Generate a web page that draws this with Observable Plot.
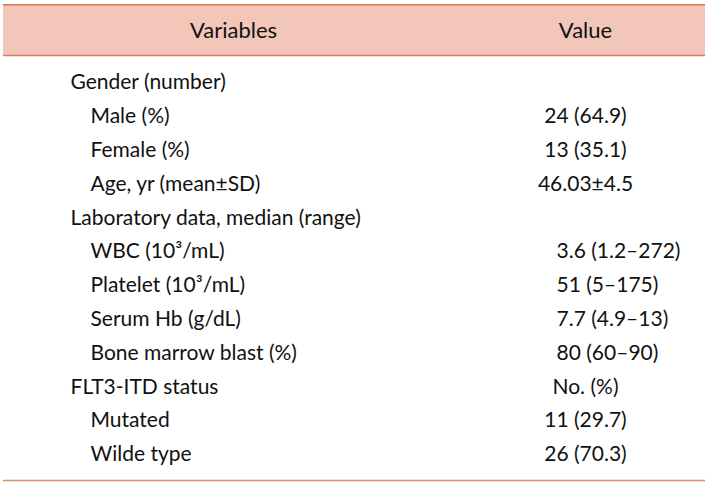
<!DOCTYPE html>
<html>
<head>
<meta charset="utf-8">
<script src="https://cdn.jsdelivr.net/npm/d3@7"></script>
<script src="https://cdn.jsdelivr.net/npm/@observablehq/plot@0.6"></script>
<style>
  html, body { margin: 0; padding: 0; background: #fff; }
  svg { display: block; }
</style>
</head>
<body>
<div id="chart"></div>
<script>
// Column headers
const headers = ["Variables", "Value"];

// Row labels, indentation level, and values
const labels = [
  "Gender (number)",
  "Male (%)",
  "Female (%)",
  "Age, yr (mean\u00B1SD)",
  "Laboratory data, median (range)",
  "WBC (10\u00B3/mL)",
  "Platelet (10\u00B3/mL)",
  "Serum Hb (g/dL)",
  "Bone marrow blast (%)",
  "FLT3-ITD status",
  "Mutated",
  "Wilde type"
];
const levels = [0, 1, 1, 1, 0, 1, 1, 1, 1, 0, 1, 1];
const values = [
  "",
  "24 (64.9)",
  "13 (35.1)",
  "46.03\u00B14.5",
  "",
  "3.6 (1.2\u2013272)",
  "51 (5\u2013175)",
  "7.7 (4.9\u201313)",
  "80 (60\u201390)",
  "No. (%)",
  "11 (29.7)",
  "26 (70.3)"
];
// value alignment: "c" centred under header, "l" left-aligned group
const valueAlign = ["c", "c", "c", "c", "c", "l", "l", "l", "l", "c", "c", "c"];

const rows = labels.map((label, i) => ({
  i, label, level: levels[i], value: values[i], align: valueAlign[i]
}));

const FONT = "Lato, 'Open Sans', sans-serif";
const FS = 21;
const headerFill = "#f2c6b8";
const lineColor = "#d9775f";
const textColor = "#111";

const TX1 = 3, TX2 = 705;        // table extent
const COL_LABEL = 70, INDENT = 20; // label column
const COL_VALUE = 585, COL_VALUE_LEFT = 556;
const HEAD_TOP = -2.3, HEAD_BOTTOM = -0.8, HEAD_MID = -1.52, TABLE_BOTTOM = 11.77;

const chart = Plot.plot({
  width: 708,
  height: 484,
  margin: 0,
  style: { fontFamily: FONT, background: "#fff" },
  x: { type: "linear", domain: [0, 708], range: [0, 708], axis: null },
  y: { type: "linear", domain: [0, 11], range: [82, 454], axis: null },
  marks: [
    Plot.rect([0], { x1: TX1, x2: TX2, y1: HEAD_TOP, y2: HEAD_BOTTOM, fill: headerFill }),
    Plot.ruleY([HEAD_TOP, HEAD_BOTTOM], { x1: TX1, x2: TX2, stroke: lineColor, strokeWidth: 1.5 }),
    Plot.ruleY([TABLE_BOTTOM], { x1: TX1, x2: TX2, stroke: lineColor, strokeWidth: 1.5, strokeOpacity: 0.85 }),
    Plot.text(headers, {
      x: (d, k) => k === 0 ? 233 : COL_VALUE,
      y: () => HEAD_MID,
      text: d => d,
      fontSize: FS + 1,
      fill: textColor,
      textAnchor: "middle"
    }),
    Plot.text(rows, {
      x: d => COL_LABEL + d.level * INDENT,
      y: "i",
      text: "label",
      fontSize: FS,
      fill: textColor,
      textAnchor: "start"
    }),
    Plot.text(rows.filter(d => d.value && d.align === "c"), {
      x: () => COL_VALUE,
      y: "i",
      text: "value",
      fontSize: FS,
      fill: textColor,
      textAnchor: "middle"
    }),
    Plot.text(rows.filter(d => d.value && d.align === "l"), {
      x: () => COL_VALUE_LEFT,
      y: "i",
      text: "value",
      fontSize: FS,
      fill: textColor,
      textAnchor: "start"
    })
  ]
});
document.getElementById("chart").appendChild(chart);
</script>
</body>
</html>
